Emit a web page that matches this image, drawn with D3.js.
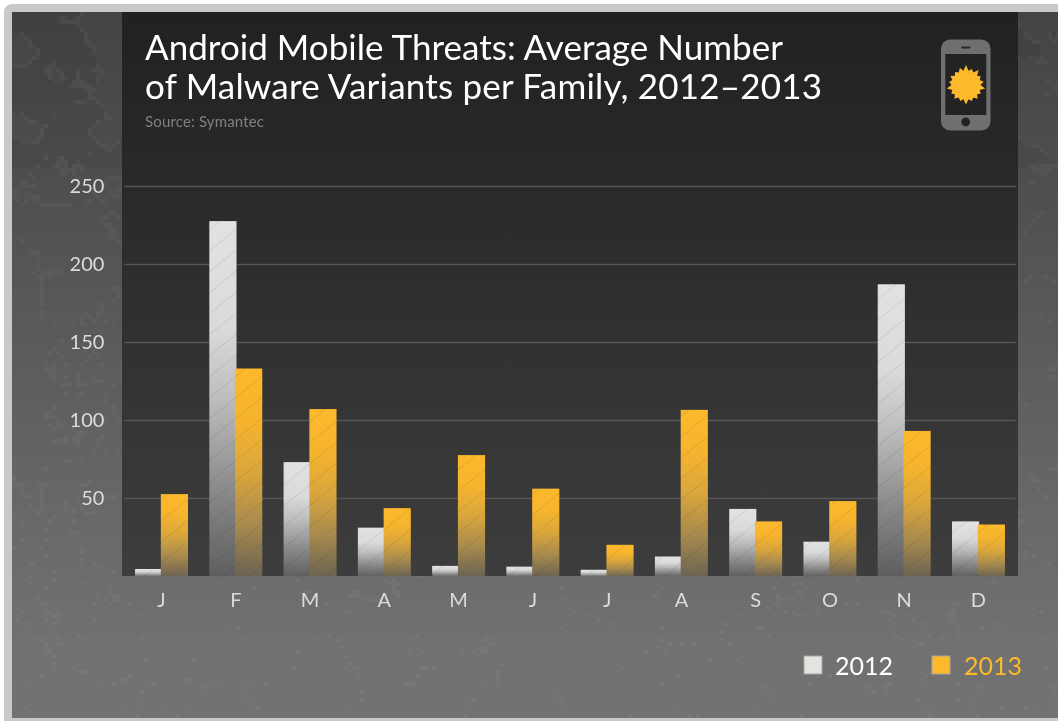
<!DOCTYPE html>
<html><head><meta charset="utf-8">
<script src="https://cdn.jsdelivr.net/npm/d3@7"></script>
<style>
html,body{margin:0;padding:0;background:#fff;overflow:hidden}
#wrap{position:relative;width:1058px;height:721px;overflow:hidden}
#frame{position:absolute;left:4px;top:4px;width:1060px;height:730px;background:#c9c9c9;border-radius:8px 0 0 0}
#tex{position:absolute;left:12px;top:12px;width:1048px;height:706px;image-rendering:pixelated}
svg{position:absolute;left:0;top:0}
text{font-family:Lato,"Noto Sans",sans-serif}
</style></head><body>
<div id="wrap"><div id="frame"></div><canvas id="tex" width="262" height="177"></canvas><svg id="chart" width="1058" height="721"></svg></div>
<script>
const months = ["J","F","M","A","M","J","J","A","S","O","N","D"];
const series2012 = [4.5,227.5,73,31,6.5,6,4,12.5,43,22,187,35];
const series2013 = [52.5,133,107,43.5,77.5,56,20,106.5,35,48,93,33];
const yTicks = [50,100,150,200,250];
const titleLines = ["Android Mobile Threats: Average Number","of Malware Variants per Family, 2012–2013"];
const sourceText = "Source: Symantec";
const legendItems = [{name:"2012",fill:"#e3e3df",text:"#ffffff",x:804},{name:"2013",fill:"#fdb92c",text:"#fdb92c",x:932}];

// decorative mottled background texture (deterministic value noise)
(function(){
  const c=document.getElementById("tex"),ctx=c.getContext("2d");
  const h=(x,y)=>{const s=Math.sin(x*127.1+y*311.7)*43758.5453;return s-Math.floor(s);};
  const sm=t=>t*t*(3-2*t);
  const vn=(x,y)=>{const xi=Math.floor(x),yi=Math.floor(y),u=sm(x-xi),v=sm(y-yi);
    return (h(xi,yi)*(1-u)+h(xi+1,yi)*u)*(1-v)+(h(xi,yi+1)*(1-u)+h(xi+1,yi+1)*u)*v;};
  const col=d3.scaleLinear().domain([0,0.27,0.69,0.9,1]).range([68,80,103,113,114]);
  for(let y=0;y<c.height;y++){
    const t=y/(c.height-1);
    for(let x=0;x<c.width;x++){
      const n=0.62*vn(x/13,y/9)+0.26*vn(x/5,y/5)+0.12*vn(x/2,y/2);
      let g=col(t);
      if(Math.abs(n-0.5)<0.022-0.016*t) g+=5;
      else if(t<0.22 && n<0.47) g-=4;
      g=Math.round(g);
      ctx.fillStyle=`rgb(${g},${g},${g})`;
      ctx.fillRect(x,y,1,1);
    }
  }
})();

const svg=d3.select("#chart");
const defs=svg.append("defs");
const panelGrad=defs.append("linearGradient").attr("id","panel").attr("x1",0).attr("y1",0).attr("x2",0).attr("y2",1);
panelGrad.append("stop").attr("offset",0).attr("stop-color","#212121");
panelGrad.append("stop").attr("offset",1).attr("stop-color","#3d3d3d");
function barGrad(id,stops){
  const g=defs.append("linearGradient").attr("id",id).attr("x1",0).attr("y1",0).attr("x2",0).attr("y2",1);
  stops.forEach(([o,c])=>g.append("stop").attr("offset",o).attr("stop-color",c));
}
barGrad("g2012",[[0,"#e2e2e2"],[0.3,"#dadada"],[0.5,"#bdbdbd"],[0.75,"#8b8b8b"],[1,"#5e5e5e"]]);
barGrad("g2013",[[0,"#fdb92c"],[0.25,"#f6b42e"],[0.5,"#d9a63c"],[0.75,"#a78a4e"],[1,"#6b6352"]]);
const hatch=defs.append("pattern").attr("id","hatch").attr("patternUnits","userSpaceOnUse")
  .attr("width",26).attr("height",21);
hatch.append("path").attr("d","M-2,22.6 L28,-1.6 M-15,12.1 L15,-12.1 M11,33.1 L41,8.9")
  .attr("stroke","#000").attr("stroke-opacity",0.09).attr("stroke-width",1).attr("fill","none");

const baseY=576, topY=186, plotL=124.4, plotR=1015.6;
const y=d3.scaleLinear().domain([0,250]).range([baseY,topY]);
const x=d3.scaleBand().domain(months.map((m,i)=>i)).range([plotL,plotR]).paddingInner(0.287).paddingOuter(0.1435);

svg.append("rect").attr("x",122).attr("y",12).attr("width",896).attr("height",baseY-12).attr("fill","url(#panel)");

const yAxis=svg.append("g").attr("transform",`translate(${plotL},0)`)
  .call(d3.axisLeft(y).tickValues(yTicks).tickSize(-(plotR-plotL)).tickPadding(20));
yAxis.select(".domain").remove();
yAxis.selectAll(".tick line").attr("stroke","#565656").attr("stroke-width",1.6);
yAxis.selectAll(".tick text").attr("fill","#dcdcdc").attr("font-size",20);

const groups=[["g2012",series2012,0],["g2013",series2013,1]];
const bw=x.bandwidth()/2;
groups.forEach(([id,vals,k])=>{
  const g=svg.append("g");
  g.selectAll("rect.bar").data(vals).join("rect").attr("class","bar")
    .attr("x",(d,i)=>x(i)+k*(bw-0.7))
    .attr("y",d=>y(d)).attr("width",bw+0.7).attr("height",d=>baseY+1-y(d))
    .attr("fill",`url(#${id})`);
  g.selectAll("rect.hat").data(vals).join("rect").attr("class","hat")
    .attr("x",(d,i)=>x(i)+k*(bw-0.7))
    .attr("y",d=>y(d)).attr("width",bw+0.7).attr("height",d=>baseY+1-y(d))
    .attr("fill","url(#hatch)");
});
svg.append("line").attr("x1",122).attr("x2",1018).attr("y1",baseY+0.5).attr("y2",baseY+0.5)
  .attr("stroke","#777").attr("stroke-opacity",0.45);

const xAxis=svg.append("g").attr("transform",`translate(0,${baseY})`)
  .call(d3.axisBottom(x).tickFormat(i=>months[i]).tickSize(0).tickPadding(17));
xAxis.select(".domain").remove();
xAxis.selectAll(".tick text").attr("fill","#dcdcdc").attr("font-size",20);

svg.append("g").selectAll("text").data(titleLines).join("text")
  .attr("x",145).attr("y",(d,i)=>60+i*39).attr("fill","#fff").attr("font-size",35)
  .attr("textLength",(d,i)=>i?677:638).attr("lengthAdjust","spacing").text(d=>d);
svg.append("text").attr("x",145).attr("y",127).attr("fill","#808080").attr("font-size",15)
  .attr("textLength",119).text(sourceText);

// phone + sun icon
const icon=svg.append("g");
icon.append("rect").attr("x",941).attr("y",39.5).attr("width",49.5).attr("height",91).attr("rx",9).attr("fill","#6f6f6f");
icon.append("rect").attr("x",945.3).attr("y",54).attr("width",41).attr("height",61).attr("fill","#232323");
icon.append("rect").attr("x",961).attr("y",46.5).attr("width",9.5).attr("height",2).attr("rx",1).attr("fill","#2a2a2a");
icon.append("circle").attr("cx",965.7).attr("cy",122).attr("r",4.4).attr("fill","#232323");
const spikes=[20,14.5,17,14.5,19.5,14.5,17,14.5,18,14.5,19.5,14.5,17,14.5,18,14.5,17,14.5,19.5,14.5,17,14.5,18,14.5,17,14.5,19.5,14.5,17,14.5,18,14.5,17,14.5,18,14.5];
const sun=d3.lineRadial().angle((d,i)=>i/spikes.length*2*Math.PI).radius(d=>d).curve(d3.curveLinearClosed);
icon.append("path").attr("transform","translate(966,85)").attr("d",sun(spikes)).attr("fill","#fdb92c");

// legend
const lg=svg.append("g").selectAll("g").data(legendItems).join("g");
lg.append("rect").attr("x",d=>d.x).attr("y",656).attr("width",18).attr("height",18)
  .attr("fill",d=>d.fill).attr("stroke","#a5a5a5").attr("stroke-width",1);
lg.append("text").attr("x",d=>d.x+(d.name==="2012"?31:32)).attr("y",675).attr("font-size",25)
  .attr("fill",d=>d.text).text(d=>d.name);
</script>
</body></html>
